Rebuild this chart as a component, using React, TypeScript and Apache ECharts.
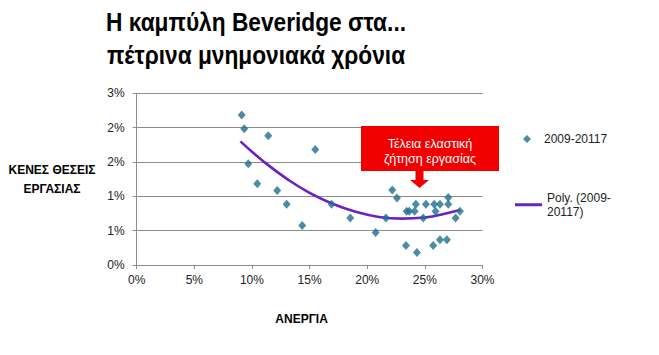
import React, { useEffect, useRef } from "react";
import * as echarts from "echarts";

// Unemployment (%) and vacancy rate (%)
const unemployment = [
  9.11, 9.33, 9.68, 10.46, 11.41, 12.19, 13.01, 14.36, 15.49, 16.91, 18.53,
  20.73, 21.62, 22.17, 22.58, 23.36, 23.42, 23.64, 24.11, 24.22, 24.31, 24.86,
  25.09, 25.72, 25.81, 25.93, 26.31, 26.31, 26.91, 27.03, 27.03, 27.67, 28.04,
];
const vacancies = [
  2.62, 2.38, 1.77, 1.42, 2.26, 1.3, 1.06, 0.69, 2.02, 1.06, 0.82,
  0.57, 0.82, 1.31, 1.17, 0.34, 0.94, 0.94, 0.94, 1.06, 0.22, 0.82,
  1.06, 0.34, 1.06, 0.94, 1.06, 0.44, 0.44, 1.18, 1.06, 0.82, 0.94,
];
// Polynomial trendline
const trendX = [9.0, 11, 13, 15, 17, 19, 21, 23, 25, 27, 28.04];
const trendY = [2.16, 1.81, 1.51, 1.26, 1.07, 0.93, 0.84, 0.81, 0.83, 0.91, 0.96];

const xTicks = [0, 5, 10, 15, 20, 25, 30];
const scatterName = "2009-20117";
const trendName = "Poly. (2009-20117)";
const titleLines = ["Η καμπύλη Beveridge στα...", "πέτρινα μνημονιακά χρόνια"];
const noteLines = ["Τέλεια ελαστική", "ζήτηση εργασίας"];

export default function App() {
  const ref = useRef<HTMLDivElement>(null);
  useEffect(() => {
    if (!ref.current) return;
    const chart = echarts.init(ref.current, undefined, { renderer: "svg" });
    const font = "Arial, 'Liberation Sans', sans-serif";
    const titleFont = "bold 26px 'Liberation Sans', Arial, sans-serif";
    let titleScale = 0.8;
    const ctx = document.createElement("canvas").getContext("2d");
    if (ctx) {
      ctx.font = titleFont;
      const w = Math.max(...titleLines.map((l) => ctx.measureText(l).width));
      if (w > 0) titleScale = 300 / w;
    }
    chart.setOption({
      animation: false,
      backgroundColor: "#ffffff",
      grid: { left: 136.7, right: 176.5, top: 93.3, bottom: 90 },
      xAxis: {
        type: "value",
        min: xTicks[0],
        max: xTicks[xTicks.length - 1],
        interval: 5,
        name: "ΑΝΕΡΓΙΑ",
        nameLocation: "middle",
        nameGap: 48,
        nameTextStyle: {
          fontFamily: font,
          fontWeight: "bold",
          fontSize: 12,
          color: "#000",
          padding: [0, 16, 0, 0],
        },
        axisLine: { show: true, lineStyle: { color: "#8c8c8c", width: 1 } },
        axisTick: { show: true, length: 4, lineStyle: { color: "#8c8c8c" } },
        axisLabel: {
          margin: 9,
          fontFamily: font,
          fontSize: 12,
          color: "#222",
          formatter: (v: number) => `${v}%`,
        },
        splitLine: { show: false },
      },
      yAxis: {
        type: "value",
        min: 0,
        max: 3,
        interval: 0.6,
        name: "ΚΕΝΕΣ ΘΕΣΕΙΣ\nΕΡΓΑΣΙΑΣ",
        nameLocation: "middle",
        nameRotate: 0,
        nameGap: 84.7,
        nameTextStyle: {
          fontFamily: font,
          fontWeight: "bold",
          fontSize: 12,
          lineHeight: 19,
          color: "#000",
          align: "center",
          verticalAlign: "middle",
          padding: [0, 0, 14, 0],
        },
        axisLine: { show: true, lineStyle: { color: "#8c8c8c", width: 1 } },
        axisTick: { show: true, length: 4, lineStyle: { color: "#8c8c8c" } },
        axisLabel: {
          margin: 12,
          fontFamily: font,
          fontSize: 12,
          color: "#222",
          formatter: (v: number) => `${Math.round(v)}%`,
        },
        splitLine: { show: true, lineStyle: { color: "#8c8c8c", width: 1 } },
      },
      legend: [
        {
          data: [{ name: scatterName, icon: "diamond" }],
          orient: "vertical",
          left: 523,
          top: 133,
          padding: 0,
          itemWidth: 8,
          itemHeight: 8,
          textStyle: {
            fontFamily: font,
            fontSize: 12,
            color: "#222",
            padding: [0, 0, 0, 8],
          },
        },
        {
          data: [{ name: trendName, icon: "rect" }],
          orient: "vertical",
          left: 515,
          top: 183,
          padding: 0,
          itemWidth: 27,
          itemHeight: 3,
          formatter: () => "Poly. (2009-\n20117)",
          textStyle: {
            fontFamily: font,
            fontSize: 12,
            lineHeight: 14.5,
            color: "#222",
            padding: [14.5, 0, 0, 0],
          },
        },
      ],
      series: [
        {
          name: scatterName,
          type: "scatter",
          symbol: "diamond",
          symbolSize: [8, 9],
          itemStyle: { color: "#1f6e8f" },
          data: unemployment.map((x, i) => [x, vacancies[i]]),
          z: 3,
        },
        {
          name: trendName,
          type: "line",
          smooth: true,
          showSymbol: false,
          symbol: "none",
          lineStyle: { color: "#6a22c2", width: 2.6 },
          itemStyle: { color: "#6a22c2" },
          data: trendX.map((x, i) => [x, trendY[i]]),
          z: 2,
        },
      ],
      graphic: [
        {
          type: "text",
          x: 256,
          y: 5,
          scaleX: titleScale,
          style: {
            text: titleLines.join("\n"),
            fill: "#000",
            font: titleFont,
            lineHeight: 33,
            align: "center",
            verticalAlign: "top",
          },
        },
        {
          type: "rect",
          shape: { x: 361, y: 126, width: 138, height: 45 },
          style: { fill: "#f00000" },
          z: 10,
        },
        {
          type: "polygon",
          shape: {
            points: [
              [415.5, 170],
              [423.5, 170],
              [423.5, 180],
              [429, 180],
              [419.5, 188],
              [410, 180],
              [415.5, 180],
            ],
          },
          style: { fill: "#f00000" },
          z: 10,
        },
        {
          type: "text",
          x: 430,
          y: 151.5,
          style: {
            text: noteLines.join("\n"),
            fill: "#ffffff",
            font: `12.5px ${font}`,
            lineHeight: 15,
            align: "center",
            verticalAlign: "middle",
          },
          z: 11,
        },
      ],
    });
    return () => chart.dispose();
  }, []);
  return <div ref={ref} style={{ width: 659, height: 355, position: "absolute", left: 0, top: 0 }} />;
}
